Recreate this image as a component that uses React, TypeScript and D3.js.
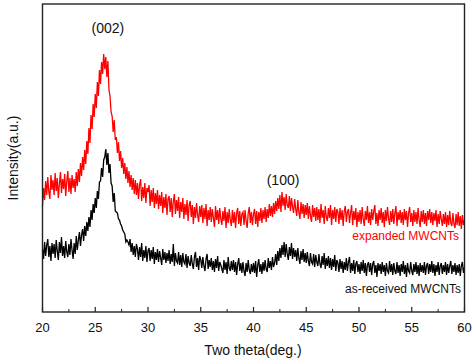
import React from 'react';
import * as d3 from 'd3';

// 2theta from 20 to 60 deg, step 0.1 (one row = one degree)
const thetaStart = 20;
const thetaStep = 0.1;

const expandedCounts = [
  106, 124, 112, 131, 117, 135, 120, 113, 137, 122,
  132, 117, 139, 121, 134, 114, 128, 140, 119, 133,
  123, 138, 116, 131, 141, 120, 134, 118, 137, 124,
  133, 120, 140, 126, 143, 130, 149, 136, 155, 142,
  162, 148, 171, 158, 184, 169, 197, 183, 208, 195,
  218, 204, 230, 216, 242, 228, 250, 238, 258, 243,
  255, 235, 251, 222, 216, 200, 196, 180, 192, 172,
  175, 159, 170, 151, 161, 144, 154, 138, 149, 133,
  145, 129, 141, 125, 137, 122, 134, 118, 132, 117,
  129, 113, 127, 133, 111, 125, 114, 129, 109, 124,
  120, 127, 106, 122, 110, 124, 104, 119, 108, 122,
  103, 117, 106, 120, 99, 115, 104, 118, 97, 113,
  116, 100, 114, 95, 111, 118, 98, 112, 101, 115,
  94, 110, 100, 114, 93, 108, 97, 112, 91, 107,
  111, 95, 107, 88, 105, 94, 109, 97, 90, 106,
  95, 107, 89, 104, 93, 108, 86, 102, 92, 105,
  90, 103, 94, 85, 106, 92, 102, 88, 104, 93,
  87, 101, 91, 105, 84, 100, 89, 103, 92, 86,
  102, 89, 100, 84, 99, 104, 88, 101, 86, 98,
  100, 87, 102, 91, 84, 99, 105, 89, 100, 87,
  98, 103, 88, 101, 85, 100, 91, 104, 89, 102,
  93, 105, 90, 103, 94, 108, 96, 106, 95, 109,
  98, 111, 101, 114, 103, 117, 100, 120, 106, 115,
  102, 118, 107, 104, 116, 101, 114, 105, 99, 113,
  103, 96, 112, 100, 93, 110, 98, 108, 94, 107,
  97, 109, 93, 106, 96, 90, 107, 95, 104, 91,
  105, 92, 103, 89, 108, 94, 102, 88, 106, 95,
  91, 104, 94, 107, 87, 102, 93, 105, 90, 103,
  100, 88, 104, 92, 102, 86, 101, 106, 90, 100,
  103, 89, 99, 107, 87, 101, 92, 104, 85, 100,
  90, 102, 88, 105, 93, 86, 101, 92, 106, 89,
  100, 87, 103, 92, 101, 107, 88, 99, 86, 102,
  92, 104, 89, 100, 85, 102, 91, 105, 93, 87,
  101, 90, 103, 88, 99, 106, 86, 100, 92, 102,
  89, 100, 87, 103, 92, 101, 85, 99, 105, 90,
  99, 86, 102, 90, 100, 88, 104, 92, 85, 101,
  90, 102, 88, 99, 86, 101, 92, 103, 89, 100,
  87, 99, 91, 102, 85, 98, 88, 101, 93, 86,
  98, 88, 100, 85, 97, 87, 101, 89, 86, 99,
  88, 84, 98, 87, 100, 86, 96, 83, 97, 87,
  92,
];

const receivedCounts = [
  63, 53, 70, 56, 67, 73, 55, 66, 51, 69,
  58, 68, 54, 72, 61, 52, 70, 59, 75, 56,
  66, 54, 71, 60, 55, 68, 57, 73, 62, 53,
  69, 58, 76, 62, 72, 80, 66, 77, 83, 71,
  86, 76, 90, 81, 95, 85, 102, 92, 108, 99,
  114, 104, 121, 113, 130, 131, 144, 135, 152, 155,
  163, 147, 159, 139, 148, 129, 126, 110, 119, 101,
  100, 99, 93, 92, 88, 86, 82, 80, 78, 70,
  72, 70, 67, 73, 60, 69, 57, 66, 55, 68,
  63, 52, 65, 55, 69, 51, 62, 54, 66, 50,
  61, 64, 51, 62, 53, 65, 48, 60, 52, 63,
  50, 61, 54, 47, 63, 52, 60, 49, 59, 51,
  62, 48, 58, 50, 68, 46, 59, 51, 49, 60,
  47, 57, 45, 59, 50, 48, 58, 44, 56, 49,
  46, 57, 48, 43, 55, 60, 45, 54, 42, 56,
  52, 44, 55, 46, 41, 53, 58, 43, 52, 45,
  54, 42, 51, 40, 53, 44, 56, 41, 50, 47,
  43, 39, 52, 42, 50, 38, 55, 44, 41, 51,
  42, 52, 40, 50, 37, 48, 54, 41, 49, 39,
  50, 41, 36, 49, 40, 52, 42, 38, 48, 40,
  49, 39, 51, 35, 47, 53, 40, 48, 38, 50,
  41, 52, 43, 40, 54, 44, 51, 42, 55, 45,
  49, 58, 47, 61, 51, 64, 54, 67, 57, 70,
  55, 68, 58, 52, 65, 56, 69, 53, 64, 55,
  62, 51, 64, 54, 48, 61, 52, 63, 50, 59,
  49, 60, 51, 46, 59, 50, 48, 58, 45, 57,
  50, 46, 58, 48, 44, 56, 47, 59, 43, 54,
  46, 56, 44, 54, 42, 53, 45, 57, 41, 52,
  49, 40, 53, 43, 51, 39, 50, 42, 54, 41,
  50, 55, 39, 49, 41, 52, 38, 48, 51, 40,
  48, 38, 50, 41, 52, 39, 49, 36, 47, 50,
  40, 49, 37, 48, 51, 39, 47, 35, 49, 41,
  48, 38, 50, 40, 47, 36, 49, 41, 39, 51,
  40, 48, 37, 49, 41, 38, 50, 39, 47, 36,
  48, 40, 51, 38, 47, 35, 49, 41, 39, 50,
  41, 37, 48, 40, 50, 38, 47, 36, 49, 40,
  47, 39, 50, 37, 46, 49, 38, 48, 40, 51,
  39, 48, 36, 47, 40, 50, 37, 46, 49, 38,
  47, 40, 50, 37, 48, 39, 46, 51, 38, 47,
  40, 49, 37, 47, 39, 48, 36, 46, 50, 39,
  45,
];

const majorTicks = [20, 25, 30, 35, 40, 45, 50, 55, 60];
const minorTicks = [22.5, 27.5, 32.5, 37.5, 42.5, 47.5, 52.5, 57.5];

const peakLabels = [
  { text: '(002)', theta: 26.2, y: 33 },
  { text: '(100)', theta: 42.8, y: 185 },
];

const font = '"Liberation Sans", Arial, sans-serif';

function App() {
  const width = 473;
  const height = 362;
  const left = 42.5;
  const right = 464.5;
  const top = 4;
  const bottom = 312;

  const x = d3.scaleLinear().domain([20, 60]).range([left, right]);
  const y = d3.scaleLinear().domain([0, 308]).range([bottom, top]);

  const line = d3
    .line<number>()
    .x((_, i) => x(thetaStart + i * thetaStep))
    .y((d) => y(d));

  return (
    <svg
      width={width}
      height={height}
      style={{ position: 'absolute', left: 0, top: 0, background: '#fff' }}
      fontFamily={font}
    >
      <path d={line(expandedCounts) || ''} fill="none" stroke="#ff0000" strokeWidth={1.3} />
      <path d={line(receivedCounts) || ''} fill="none" stroke="#000" strokeWidth={1.3} />

      <rect
        x={left}
        y={top}
        width={right - left}
        height={bottom - top}
        fill="none"
        stroke="#222"
        strokeWidth={1.4}
      />

      {majorTicks.map((t) => (
        <g key={t}>
          <line x1={x(t)} x2={x(t)} y1={bottom} y2={bottom - 5} stroke="#222" strokeWidth={1.2} />
          <text x={x(t)} y={332} fontSize={13} textAnchor="middle" fill="#111">
            {t}
          </text>
        </g>
      ))}
      {minorTicks.map((t) => (
        <line key={t} x1={x(t)} x2={x(t)} y1={bottom} y2={bottom - 3} stroke="#222" strokeWidth={1} />
      ))}

      {peakLabels.map((p) => (
        <text key={p.text} x={x(p.theta)} y={p.y} fontSize={14} textAnchor="middle" fill="#111">
          {p.text}
        </text>
      ))}

      <text x={459} y={240} fontSize={12} textAnchor="end" fill="#ff0000">
        expanded MWCNTs
      </text>
      <text x={461} y={293} fontSize={12} textAnchor="end" fill="#111">
        as-received MWCNTs
      </text>

      <text x={253} y={355} fontSize={14} textAnchor="middle" fill="#111">
        Two theta(deg.)
      </text>
      <text
        transform="translate(18,158) rotate(-90)"
        fontSize={14}
        textAnchor="middle"
        fill="#111"
      >
        Intensity(a.u.)
      </text>
    </svg>
  );
}

export default App;
